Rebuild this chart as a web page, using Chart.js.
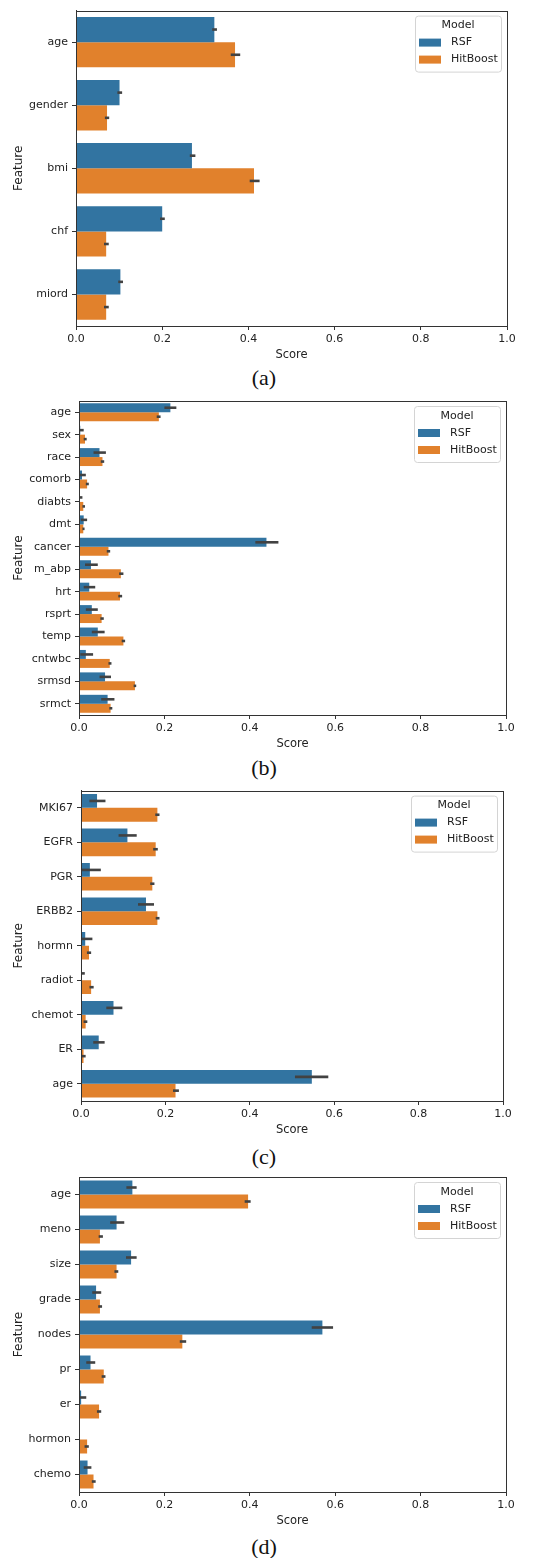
<!DOCTYPE html>
<html>
<head>
<meta charset="utf-8">
<script src="https://cdn.jsdelivr.net/npm/chart.js@4.4.0/dist/chart.umd.min.js"></script>
<style>
body{margin:0;background:#fff;width:553px;height:1558px;position:relative;overflow:hidden}
.panel{position:absolute;left:0}
.cap{position:absolute;width:100px;left:214px;text-align:center;font-family:'Liberation Serif',serif;font-size:22px;line-height:22px;color:#111}
</style>
</head>
<body>
<div class="panel" style="top:0"><canvas id="ca" width="553" height="364"></canvas></div>
<div class="cap" style="top:367px">(a)</div>
<div class="panel" style="top:390px"><canvas id="cb" width="553" height="363"></canvas></div>
<div class="cap" style="top:757px">(b)</div>
<div class="panel" style="top:780px"><canvas id="cc" width="553" height="359"></canvas></div>
<div class="cap" style="top:1146px">(c)</div>
<div class="panel" style="top:1160px"><canvas id="cd" width="553" height="370"></canvas></div>
<div class="cap" style="top:1536px">(d)</div>
<script>
// colours (seaborn default palette)
const blue = '#3274a1', orange = '#e1812c';

// (a)
const featA = ['age','gender','bmi','chf','miord'];
const rsfA = [0.321,0.101,0.269,0.200,0.103];
const hbA  = [0.369,0.072,0.413,0.070,0.070];
const rsfCiA = [[0.316,0.327],[0.096,0.107],[0.264,0.277],[0.195,0.206],[0.098,0.109]];
const hbCiA  = [[0.359,0.381],[0.067,0.077],[0.403,0.426],[0.065,0.076],[0.065,0.076]];

// (b)
const featB = ['age','sex','race','comorb','diabts','dmt','cancer','m_abp','hrt','rsprt','temp','cntwbc','srmsd','srmct'];
const rsfB = [0.214,0.003,0.048,0.007,0.002,0.011,0.439,0.028,0.024,0.030,0.044,0.016,0.061,0.067];
const hbB  = [0.187,0.014,0.055,0.019,0.010,0.010,0.069,0.098,0.096,0.053,0.104,0.072,0.131,0.074];
const rsfCiB = [[0.200,0.228],[0,0.011],[0.034,0.063],[0,0.016],[0,0.008],[0.004,0.019],[0.413,0.467],
                [0.014,0.044],[0.011,0.038],[0.016,0.044],[0.030,0.060],[0.003,0.033],[0.048,0.075],[0.052,0.083]];
const hbCiB  = [[0.182,0.191],[0.011,0.018],[0.051,0.059],[0.016,0.023],[0.008,0.014],[0.008,0.013],[0.065,0.073],
                [0.094,0.104],[0.092,0.101],[0.050,0.058],[0.100,0.108],[0.069,0.076],[0.128,0.134],[0.071,0.078]];

// (c)
const featC = ['MKI67','EGFR','PGR','ERBB2','hormn','radiot','chemot','ER','age'];
const rsfC = [0.038,0.110,0.021,0.154,0.010,0.002,0.077,0.042,0.547];
const hbC  = [0.181,0.177,0.169,0.181,0.019,0.024,0.011,0.006,0.224];
const rsfCiC = [[0.020,0.058],[0.089,0.132],[0.001,0.047],[0.135,0.173],[0.001,0.027],[0,0.009],[0.060,0.098],[0.029,0.056],[0.507,0.586]];
const hbCiC  = [[0.176,0.186],[0.171,0.182],[0.164,0.174],[0.177,0.186],[0.014,0.024],[0.020,0.030],[0.006,0.015],[0.002,0.011],[0.218,0.232]];

// (d)
const featD = ['age','meno','size','grade','nodes','pr','er','hormon','chemo'];
const rsfD = [0.125,0.088,0.122,0.040,0.570,0.027,0.005,0,0.020];
const hbD  = [0.396,0.049,0.088,0.049,0.242,0.058,0.047,0.019,0.034];
const rsfCiD = [[0.111,0.135],[0.073,0.106],[0.110,0.135],[0.031,0.052],[0.545,0.595],[0.017,0.038],[0,0.017],[0,0],[0.011,0.029]];
const hbCiD  = [[0.388,0.402],[0.046,0.056],[0.083,0.092],[0.045,0.054],[0.236,0.251],[0.053,0.062],[0.042,0.052],[0.013,0.023],[0.030,0.039]];

Chart.defaults.font.family = "'DejaVu Sans', sans-serif";
Chart.defaults.font.size = 11;
Chart.defaults.color = '#222';

// horizontal error bars from dataset.ci
const errBars = {
  id: 'errBars',
  afterDatasetsDraw(chart) {
    const ctx = chart.ctx, xs = chart.scales.x;
    ctx.save();
    ctx.strokeStyle = '#424242';
    ctx.lineWidth = 2.6;
    ctx.lineCap = 'butt';
    chart.data.datasets.forEach((ds, di) => {
      const meta = chart.getDatasetMeta(di);
      meta.data.forEach((bar, i) => {
        const ci = ds.ci[i];
        if (ci[1] <= ci[0]) return;
        ctx.beginPath();
        ctx.moveTo(xs.getPixelForValue(ci[0]), bar.y);
        ctx.lineTo(xs.getPixelForValue(ci[1]), bar.y);
        ctx.stroke();
      });
    });
    ctx.restore();
  }
};

// box around plot area
const frame = {
  id: 'frame',
  afterDraw(chart) {
    const a = chart.chartArea, ctx = chart.ctx;
    ctx.save();
    ctx.strokeStyle = '#333';
    ctx.lineWidth = 1;
    ctx.strokeRect(Math.round(a.left) + 0.5, Math.round(a.top) + 0.5, Math.round(a.right - a.left), Math.round(a.bottom - a.top));
    ctx.restore();
  }
};

// matplotlib-ish legend in upper right
const legendBox = {
  id: 'legendBox',
  afterDraw(chart) {
    const a = chart.chartArea, ctx = chart.ctx;
    const w = 86, h = 56;
    const x = a.right - 6 - w, y = a.top + 5;
    ctx.save();
    ctx.fillStyle = 'rgba(255,255,255,0.9)';
    ctx.strokeStyle = '#d4d4d4';
    ctx.lineWidth = 1;
    ctx.beginPath();
    ctx.roundRect(x + 0.5, y + 0.5, w, h, 3);
    ctx.fill();
    ctx.stroke();
    ctx.font = "11px 'DejaVu Sans', sans-serif";
    ctx.fillStyle = '#222';
    ctx.textBaseline = 'middle';
    ctx.textAlign = 'center';
    ctx.fillText('Model', x + w / 2, y + 10);
    ctx.textAlign = 'left';
    chart.data.datasets.forEach((ds, i) => {
      const ry = y + 27 + i * 17;
      ctx.fillStyle = ds.backgroundColor;
      ctx.fillRect(x + 4, ry - 4, 22, 8);
      ctx.fillStyle = '#222';
      ctx.fillText(ds.label, x + 36, ry);
    });
    ctx.restore();
  }
};

function makePanel(id, feats, rsf, hb, rsfCi, hbCi, box) {
  new Chart(document.getElementById(id), {
    type: 'bar',
    data: {
      labels: feats,
      datasets: [
        {label: 'RSF', data: rsf, backgroundColor: blue, ci: rsfCi},
        {label: 'HitBoost', data: hb, backgroundColor: orange, ci: hbCi}
      ]
    },
    options: {
      indexAxis: 'y',
      responsive: false,
      animation: false,
      categoryPercentage: 0.8,
      barPercentage: 1.0,
      layout: {padding: {left: 0, right: 553 - box.r, top: box.t, bottom: 0}},
      plugins: {legend: {display: false}, tooltip: {enabled: false}},
      scales: {
        x: {
          min: 0, max: 1,
          ticks: {stepSize: 0.2, padding: 3, callback: v => v.toFixed(1)},
          grid: {drawOnChartArea: false, tickLength: 4, color: '#333'},
          border: {color: '#333'},
          title: {display: true, text: 'Score', font: {size: 11.5}, padding: {top: 0, bottom: 2}},
          afterFit: s => { s.height = 38; }
        },
        y: {
          ticks: {padding: 4, autoSkip: false},
          grid: {offset: false, drawOnChartArea: false, tickLength: 4, color: '#333'},
          border: {color: '#333'},
          title: {display: true, text: 'Feature', font: {size: 12}, padding: {top: 12, bottom: 0}},
          afterFit: s => { s.width = box.l; }
        }
      }
    },
    plugins: [errBars, frame, legendBox]
  });
}

makePanel('ca', featA, rsfA, hbA, rsfCiA, hbCiA, {l: 76, r: 507, t: 9});
makePanel('cb', featB, rsfB, hbB, rsfCiB, hbCiB, {l: 79, r: 506, t: 11});
makePanel('cc', featC, rsfC, hbC, rsfCiC, hbCiC, {l: 81, r: 503, t: 9});
makePanel('cd', featD, rsfD, hbD, rsfCiD, hbCiD, {l: 79, r: 506, t: 17});
</script>
</body>
</html>
